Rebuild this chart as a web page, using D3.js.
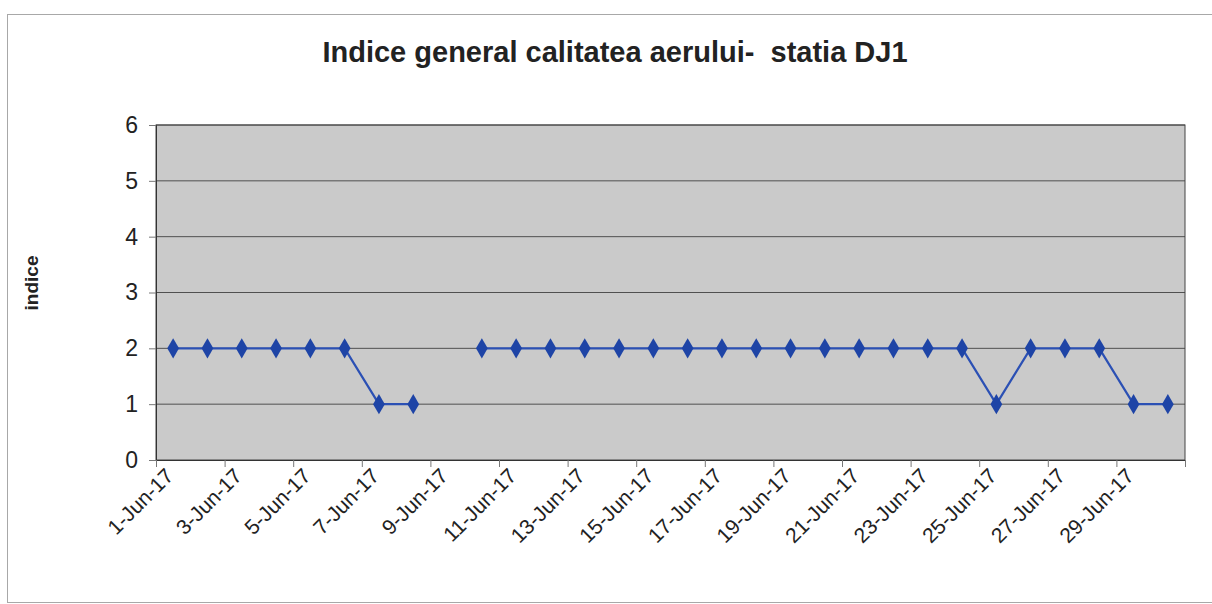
<!DOCTYPE html>
<html>
<head>
<meta charset="utf-8">
<script src="https://cdn.jsdelivr.net/npm/d3@7"></script>
<style>
  body { margin: 0; background: #fff; }
  svg { display: block; font-family: "Liberation Sans", Arial, sans-serif; }
</style>
</head>
<body>
<div id="wrapper"></div>
<script>
const chartTitle = "Indice general calitatea aerului-  statia DJ1";
const yTitle = "indice";
const days = ["1-Jun-17", "2-Jun-17", "3-Jun-17", "4-Jun-17", "5-Jun-17", "6-Jun-17",
    "7-Jun-17", "8-Jun-17", "9-Jun-17", "10-Jun-17", "11-Jun-17", "12-Jun-17",
    "13-Jun-17", "14-Jun-17", "15-Jun-17", "16-Jun-17", "17-Jun-17", "18-Jun-17",
    "19-Jun-17", "20-Jun-17", "21-Jun-17", "22-Jun-17", "23-Jun-17", "24-Jun-17",
    "25-Jun-17", "26-Jun-17", "27-Jun-17", "28-Jun-17", "29-Jun-17", "30-Jun-17"];
// 9-Jun has no value (gap in the line)
const indice = [2, 2, 2, 2, 2, 2, 1, 1, null, 2, 2, 2, 2, 2, 2, 2, 2, 2, 2, 2, 2, 2, 2, 2, 1, 2, 2, 2, 1, 1];
const yTicks = [0, 1, 2, 3, 4, 5, 6];
const labelStep = 2;

function buildPlot() {
    const dimension = {
        width: 1212,
        height: 604,
        margin: { top: 125, left: 156, bottom: 144, right: 27 }
    };
    dimension.boundedWidth = dimension.width - dimension.margin.left - dimension.margin.right;
    dimension.boundedHeight = dimension.height - dimension.margin.top - dimension.margin.bottom;

    const svg = d3.select("#wrapper").append("svg")
        .attr("width", dimension.width)
        .attr("height", dimension.height);

    // outer chart border
    svg.append("rect")
        .attr("x", 7.5).attr("y", 14.5)
        .attr("width", 1210).attr("height", 588)
        .attr("fill", "none")
        .attr("stroke", "#a8a8a8");

    svg.append("text")
        .attr("x", 615).attr("y", 62)
        .attr("text-anchor", "middle")
        .attr("font-size", "29px")
        .attr("font-weight", "bold")
        .attr("fill", "#222")
        .style("white-space", "pre")
        .text(chartTitle);

    svg.append("text")
        .attr("transform", "translate(38,283) rotate(-90)")
        .attr("text-anchor", "middle")
        .attr("font-size", "19px")
        .attr("font-weight", "bold")
        .attr("fill", "#222")
        .text(yTitle);

    const bounded = svg.append("g")
        .attr("transform", `translate(${dimension.margin.left},${dimension.margin.top})`);

    const scaleX = d3.scaleLinear()
        .domain([0, days.length])
        .range([0, dimension.boundedWidth]);

    const scaleY = d3.scaleLinear()
        .domain([0, 6])
        .range([dimension.boundedHeight, 0]);

    bounded.append("rect")
        .attr("width", dimension.boundedWidth)
        .attr("height", dimension.boundedHeight)
        .attr("fill", "#cacaca");

    // gridlines
    bounded.append("g")
        .selectAll("line")
        .data(yTicks.slice(1))
        .join("line")
        .attr("x1", 0).attr("x2", dimension.boundedWidth)
        .attr("y1", d => scaleY(d)).attr("y2", d => scaleY(d))
        .attr("stroke", "#505050")
        .attr("stroke-width", 1);

    bounded.append("rect")
        .attr("width", dimension.boundedWidth)
        .attr("height", dimension.boundedHeight)
        .attr("fill", "none")
        .attr("stroke", "#444");

    const yAxis = bounded.append("g")
        .call(d3.axisLeft(scaleY).tickValues(yTicks).tickSize(7).tickPadding(11).tickFormat(d3.format("d")));
    yAxis.select(".domain").attr("stroke", "#333");
    yAxis.selectAll(".tick line").attr("stroke", "#777");
    yAxis.selectAll("text")
        .attr("font-size", "23px")
        .attr("font-family", "Liberation Sans, Arial, sans-serif")
        .attr("fill", "#222");

    const xTickValues = d3.range(0, days.length + 1, labelStep);
    const xAxis = bounded.append("g")
        .attr("transform", `translate(0,${dimension.boundedHeight})`)
        .call(d3.axisBottom(scaleX).tickValues(xTickValues).tickSize(7)
            .tickFormat(i => days[i] || ""));
    xAxis.select(".domain").attr("stroke", "#333");
    xAxis.selectAll(".tick line").attr("stroke", "#777");
    xAxis.selectAll("text")
        .attr("font-size", "21px")
        .attr("font-family", "Liberation Sans, Arial, sans-serif")
        .attr("fill", "#222")
        .attr("text-anchor", "end")
        .attr("dy", "0.35em")
        .attr("transform", "translate(6,5) rotate(-45)");

    const line = d3.line()
        .defined(d => d !== null)
        .x((d, i) => scaleX(i + 0.5))
        .y(d => scaleY(d));

    bounded.append("path")
        .datum(indice)
        .attr("d", line)
        .attr("fill", "none")
        .attr("stroke", "#2b50b4")
        .attr("stroke-width", 2.2);

    const diamond = d3.symbol().type(d3.symbolDiamond).size(120);
    bounded.append("g")
        .selectAll("path")
        .data(indice.map((v, i) => ({ v, i })).filter(d => d.v !== null))
        .join("path")
        .attr("d", diamond)
        .attr("transform", d => `translate(${scaleX(d.i + 0.5)},${scaleY(d.v)})`)
        .attr("fill", "#1e44a6");
}

buildPlot();
</script>
</body>
</html>
